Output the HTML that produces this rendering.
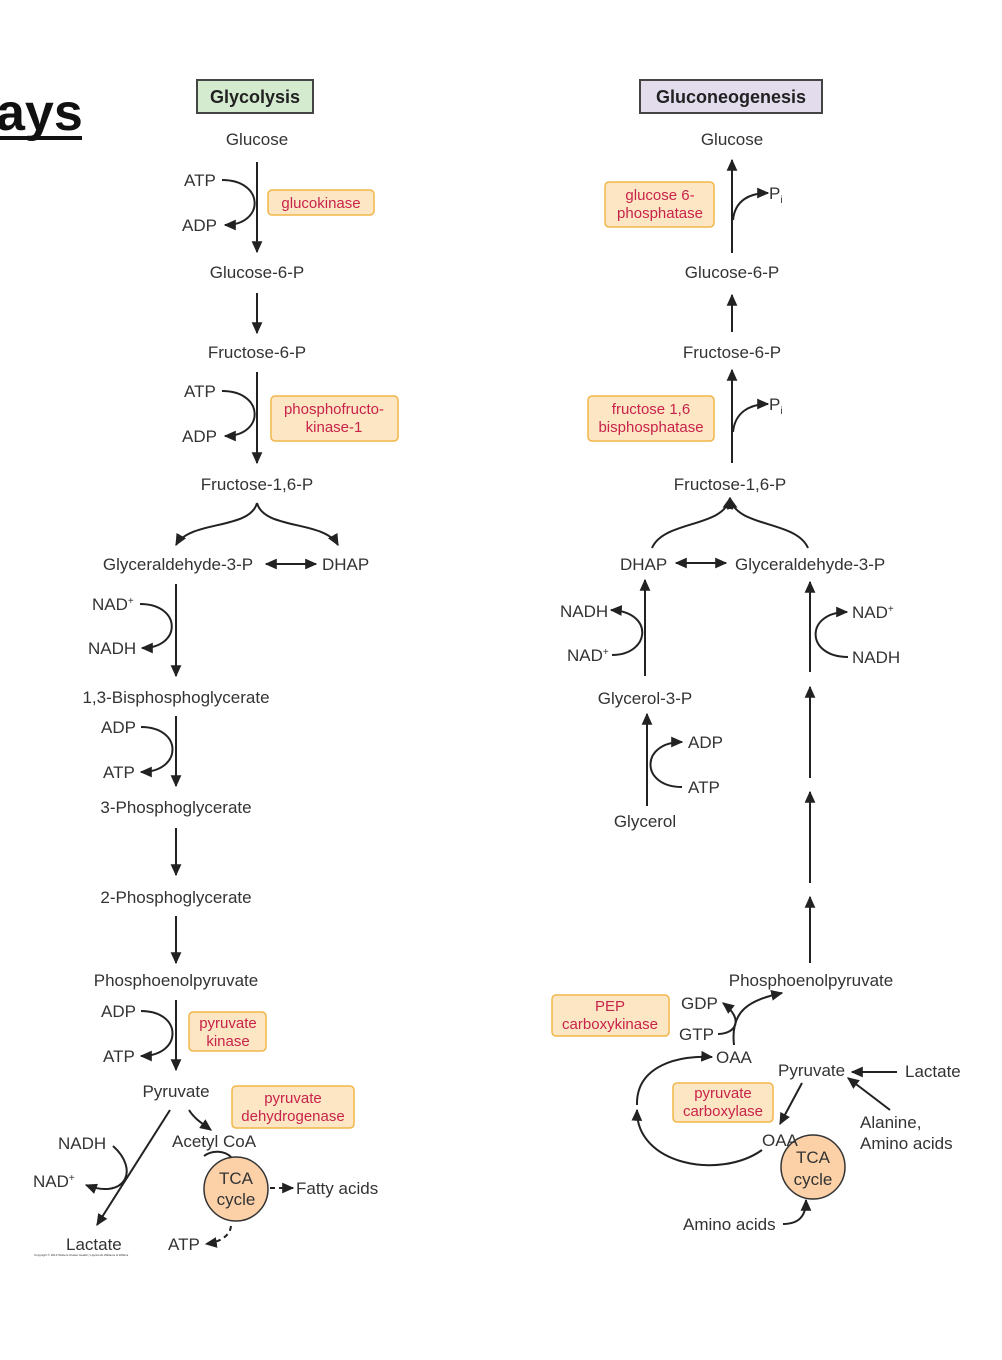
<!DOCTYPE html>
<html><head><meta charset="utf-8"><style>
html,body{margin:0;padding:0;background:#fff;width:1002px;height:1360px;overflow:hidden}
svg text{font-family:"Liberation Sans",sans-serif;font-size:17px;fill:#333}
.e{fill:#c8234a;font-size:15px}
.b{fill:#fde6c4;stroke:#f2b648;stroke-width:1.5}
.l{stroke:#222;stroke-width:2;fill:none}
</style></head><body>
<svg width="1002" height="1360" viewBox="0 0 1002 1360" xmlns="http://www.w3.org/2000/svg">
<defs>
<marker id="m" viewBox="0 0 10 10" refX="9" refY="5" markerWidth="12" markerHeight="12" orient="auto-start-reverse" markerUnits="userSpaceOnUse"><path d="M0,0.5L10,5L0,9.5z" fill="#222"/></marker></defs>
<text x="-4" y="130" style="font-size:52px;font-weight:bold;fill:#111">ays</text>
<rect x="0" y="136" width="82" height="4" fill="#111"/>
<rect x="197" y="80" width="116" height="33" fill="#d5ebd0" stroke="#444" stroke-width="2"/>
<text x="255" y="103" text-anchor="middle" style="font-weight:bold;font-size:18px;fill:#222">Glycolysis</text>
<rect x="640" y="80" width="182" height="33" fill="#e3dced" stroke="#444" stroke-width="2"/>
<text x="731" y="103" text-anchor="middle" style="font-weight:bold;font-size:18px;fill:#222">Gluconeogenesis</text>

<g class="l" marker-end="url(#m)">
<line x1="257" y1="162" x2="257" y2="252"/>
<path d="M222,180C265,180 265,225 225,225"/>
<line x1="257" y1="293" x2="257" y2="333"/>
<line x1="257" y1="372" x2="257" y2="463"/>
<path d="M222,391C265,391 265,436 225,436"/>
<path d="M257,503C250,530 190,520 176,545"/>
<path d="M257,503C264,530 324,520 338,545"/>
<line x1="176" y1="584" x2="176" y2="676"/>
<path d="M140,604C182,604 182,648 142,648"/>
<line x1="176" y1="716" x2="176" y2="786"/>
<path d="M141,727C183,727 183,772 141,772"/>
<line x1="176" y1="828" x2="176" y2="875"/>
<line x1="176" y1="916" x2="176" y2="963"/>
<line x1="176" y1="1000" x2="176" y2="1070"/>
<path d="M141,1011C183,1011 183,1056 141,1056"/>
<line x1="170" y1="1110" x2="97" y2="1225"/>
<path d="M113,1146C140,1170 125,1200 86,1185"/>
<path d="M189,1110C194,1118 200,1122 211,1130"/>
<path d="M231,1226C230,1236 220,1242 206,1244" stroke-dasharray="5,4"/>
<line x1="270" y1="1188" x2="293" y2="1188" stroke-dasharray="5,4"/>
<line x1="732" y1="253" x2="732" y2="160"/>
<path d="M733,220C735,200 750,193 768,193"/>
<line x1="732" y1="332" x2="732" y2="295"/>
<line x1="732" y1="463" x2="732" y2="370"/>
<path d="M733,432C735,412 750,404 768,404"/>
<path d="M652,548C664,520 724,528 730,498"/>
<path d="M808,548C796,520 736,528 730,498"/>
<line x1="645" y1="676" x2="645" y2="580"/>
<path d="M612,655C650,655 655,612 611,610"/>
<line x1="647" y1="806" x2="647" y2="714"/>
<path d="M682,787C640,787 640,742 682,742"/>
<line x1="810" y1="672" x2="810" y2="582"/>
<path d="M848,657C805,657 805,612 847,612"/>
<line x1="810" y1="778" x2="810" y2="687"/>
<line x1="810" y1="883" x2="810" y2="792"/>
<line x1="810" y1="963" x2="810" y2="897"/>
<path d="M734,1045C730,1010 750,1000 782,993"/>
<path d="M718,1034C735,1034 745,1020 723,1003"/>
<path d="M762,1150C720,1180 636,1165 637,1110"/>
<path d="M637,1105C636,1065 680,1055 712,1057"/>
<line x1="802" y1="1083" x2="780" y2="1124"/>
<line x1="897" y1="1072" x2="852" y2="1072"/>
<line x1="890" y1="1110" x2="848" y2="1078"/>
<path d="M783,1224C800,1224 806,1215 806,1200"/>
</g>
<g class="l" marker-end="url(#m)" marker-start="url(#m)">
<line x1="266" y1="564" x2="316" y2="564"/>
<line x1="676" y1="563" x2="726" y2="563"/>
</g>
<path d="M204,1156C212,1150 225,1150 232,1158" class="l"/>

<rect class="b" x="268" y="190" width="106" height="25" rx="4"/>
<text class="e" x="321" y="208" text-anchor="middle">glucokinase</text>
<rect class="b" x="271" y="396" width="127" height="45" rx="4"/>
<text class="e" x="334" y="414" text-anchor="middle">phosphofructo-</text>
<text class="e" x="334" y="432" text-anchor="middle">kinase-1</text>
<rect class="b" x="189" y="1012" width="77" height="39" rx="4"/>
<text class="e" x="228" y="1028" text-anchor="middle">pyruvate</text>
<text class="e" x="228" y="1046" text-anchor="middle">kinase</text>
<rect class="b" x="232" y="1086" width="122" height="42" rx="4"/>
<text class="e" x="293" y="1103" text-anchor="middle">pyruvate</text>
<text class="e" x="293" y="1121" text-anchor="middle">dehydrogenase</text>
<rect class="b" x="605" y="182" width="109" height="45" rx="4"/>
<text class="e" x="660" y="200" text-anchor="middle">glucose 6-</text>
<text class="e" x="660" y="218" text-anchor="middle">phosphatase</text>
<rect class="b" x="588" y="396" width="126" height="45" rx="4"/>
<text class="e" x="651" y="414" text-anchor="middle">fructose 1,6</text>
<text class="e" x="651" y="432" text-anchor="middle">bisphosphatase</text>
<rect class="b" x="552" y="995" width="117" height="41" rx="4"/>
<text class="e" x="610" y="1011" text-anchor="middle">PEP</text>
<text class="e" x="610" y="1029" text-anchor="middle">carboxykinase</text>
<rect class="b" x="673" y="1083" width="100" height="39" rx="4"/>
<text class="e" x="723" y="1098" text-anchor="middle">pyruvate</text>
<text class="e" x="723" y="1116" text-anchor="middle">carboxylase</text>

<circle cx="236" cy="1189" r="32" fill="#fcd1a8" stroke="#333" stroke-width="1.5"/>
<circle cx="813" cy="1167" r="32" fill="#fcd1a8" stroke="#333" stroke-width="1.5"/>

<g text-anchor="middle">
<text x="257" y="145">Glucose</text>
<text x="257" y="278">Glucose-6-P</text>
<text x="257" y="358">Fructose-6-P</text>
<text x="257" y="490">Fructose-1,6-P</text>
<text x="178" y="570">Glyceraldehyde-3-P</text>
<text x="176" y="703">1,3-Bisphosphoglycerate</text>
<text x="176" y="813">3-Phosphoglycerate</text>
<text x="176" y="903">2-Phosphoglycerate</text>
<text x="176" y="986">Phosphoenolpyruvate</text>
<text x="176" y="1097">Pyruvate</text>
<text x="236" y="1184">TCA</text><text x="236" y="1205">cycle</text>
<text x="732" y="145">Glucose</text>
<text x="732" y="278">Glucose-6-P</text>
<text x="732" y="358">Fructose-6-P</text>
<text x="730" y="490">Fructose-1,6-P</text>
<text x="645" y="704">Glycerol-3-P</text>
<text x="645" y="827">Glycerol</text>
<text x="811" y="986">Phosphoenolpyruvate</text>
<text x="813" y="1163">TCA</text><text x="813" y="1185">cycle</text>
</g>
<text x="184" y="186">ATP</text><text x="182" y="231">ADP</text>
<text x="184" y="397">ATP</text><text x="182" y="442">ADP</text>
<text x="322" y="570">DHAP</text>
<text x="92" y="610">NAD<tspan dy="-6" font-size="10">+</tspan></text>
<text x="88" y="654">NADH</text>
<text x="101" y="733">ADP</text><text x="103" y="778">ATP</text>
<text x="101" y="1017">ADP</text><text x="103" y="1062">ATP</text>
<text x="172" y="1147">Acetyl CoA</text>
<text x="58" y="1149">NADH</text>
<text x="33" y="1187">NAD<tspan dy="-6" font-size="10">+</tspan></text>
<text x="296" y="1194">Fatty acids</text>
<text x="168" y="1250">ATP</text>
<text x="66" y="1250">Lactate</text>
<text x="34" y="1256" style="font-size:3px">Copyright © 2013 Wolters Kluwer Health | Lippincott Williams &amp; Wilkins</text>
<text x="769" y="199">P<tspan dy="4" font-size="10">i</tspan></text>
<text x="769" y="410">P<tspan dy="4" font-size="10">i</tspan></text>
<text x="620" y="570">DHAP</text>
<text x="735" y="570">Glyceraldehyde-3-P</text>
<text x="560" y="617">NADH</text>
<text x="567" y="661">NAD<tspan dy="-6" font-size="10">+</tspan></text>
<text x="852" y="618">NAD<tspan dy="-6" font-size="10">+</tspan></text>
<text x="852" y="663">NADH</text>
<text x="688" y="748">ADP</text><text x="688" y="793">ATP</text>
<text x="681" y="1009">GDP</text><text x="679" y="1040">GTP</text>
<text x="716" y="1063">OAA</text>
<text x="778" y="1076">Pyruvate</text>
<text x="905" y="1077">Lactate</text>
<text x="860" y="1128">Alanine,</text>
<text x="860" y="1149">Amino acids</text>
<text x="762" y="1146">OAA</text>
<text x="683" y="1230">Amino acids</text>
</svg>
</body></html>
